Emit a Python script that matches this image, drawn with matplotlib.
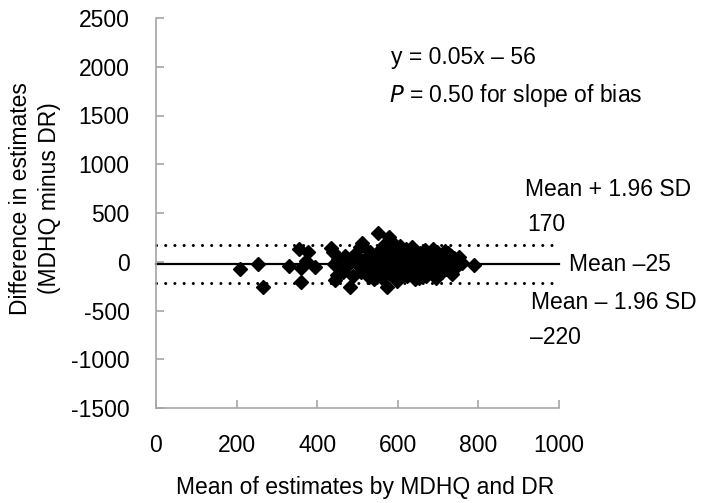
import matplotlib
matplotlib.use("Agg")
import matplotlib.pyplot as plt

plt.rcParams['font.family'] = ['Liberation Sans', 'DejaVu Sans']

# Data
mean_est = [208, 254, 266, 330, 354, 376, 359, 359, 394, 372,
            435, 440, 442, 444, 448, 452, 458, 463, 470, 475, 481, 485, 490, 495, 500,
            505, 511, 515, 520, 525, 530, 535, 538, 542, 546, 551, 555, 558,
            562, 565, 568, 572, 575, 578, 580, 583, 585, 587, 590, 593, 596, 598, 600,
            603, 606, 609, 612, 615, 618,
            622, 625, 628, 630, 633, 636, 640, 642, 645, 648, 651, 655, 658, 661, 665,
            668, 672, 675, 678,
            682, 686, 690, 694, 698, 702, 706, 710, 715, 720, 725, 730, 735, 740, 745,
            753, 760, 790,
            528, 548, 566, 592, 604, 620, 638, 652, 670, 688, 700, 718, 732, 508, 560]
diff_est = [-77, -23, -256, -40, 128, 97, -67, -211, -51, 10,
            138, 100, -20, -187, -135, 30, -60, -100, 60, -40, -256, 10, -150, 80, -30,
            150, 190, -70, 40, -120, 100, 45, -20, -180, 70, 300, -50, 130,
            20, -90, 180, -256, 60, 254, -30, -140, 110, 140, 0, -70, 40, -200, 90,
            -40, 160, -110, 20, -60, 70,
            -150, 110, -20, 40, -90, 150, -40, -180, 60, 0, -120, 90, -60, 20, -140,
            120, -30, 50, -100,
            80, -60, 10, -170, 100, -40, 50, -110, 20, -70, 90, -20, -130, 40, -50,
            52, -10, -33,
            -160, -110, 120, 170, -150, 130, 100, -170, -150, 130, -120, 110, 60, -110, -170]

mean_diff = -25
upper_loa = 170
lower_loa = -220
x_range = [0, 1000]

x_ticks = [0, 200, 400, 600, 800, 1000]
y_ticks = [-1500, -1000, -500, 0, 500, 1000, 1500, 2000, 2500]

fig = plt.figure(figsize=(7.02, 5.03), dpi=100)
ax = fig.add_axes([156/702, 1-408/503, 403/702, 390/503])

fs = 16.5
ax.plot(x_range, [upper_loa, upper_loa], color='black', lw=2.2,
        linestyle=(0, (0.01, 3)), dash_capstyle='round', clip_on=False)
ax.plot(x_range, [lower_loa, lower_loa], color='black', lw=2.2,
        linestyle=(0, (0.01, 3)), dash_capstyle='round', clip_on=False)
ax.plot(x_range, [mean_diff, mean_diff], color='black', lw=1.6, clip_on=False)
ax.plot(mean_est, diff_est, linestyle='none', marker='D', ms=7,
        color='black', clip_on=False)

ax.set_xlim(0, 1000)
ax.set_ylim(-1500, 2500)
ax.set_xticks(x_ticks)
ax.set_yticks(y_ticks)
ax.set_xticklabels([str(v) for v in x_ticks])
ax.set_yticklabels([str(v) for v in y_ticks])

for s in ['top', 'right']:
    ax.spines[s].set_visible(False)
for s in ['left', 'bottom']:
    ax.spines[s].set_color('#a6a6a6')
    ax.spines[s].set_linewidth(1.2)
ax.tick_params(axis='both', direction='in', length=6, width=1.2,
               color='#a6a6a6', labelsize=fs)
ax.tick_params(axis='y', pad=19)
ax.tick_params(axis='x', pad=19)

ax.set_ylabel('Difference in estimates\n(MDHQ minus DR)', fontsize=fs,
              linespacing=1.35)
ax.yaxis.set_label_coords(-0.30, 0.538)
ax.yaxis.label.set_va('center')
ax.set_xlabel('Mean of estimates by MDHQ and DR', fontsize=fs)
ax.xaxis.set_label_coords(0.519, -0.205)
ax.xaxis.label.set_va('center')

ax.text(584, 2090, 'y = 0.05x \u2013 56', fontsize=fs, va='center', ha='left')
ax.text(577, 1710, '$\\mathit{P}$ = 0.50 for slope of bias', fontsize=fs,
        va='center', ha='left')
ax.text(916, 736, 'Mean + 1.96 SD', fontsize=fs, va='center', ha='left', clip_on=False)
ax.text(922, 377, '170', fontsize=fs, va='center', ha='left', clip_on=False)
ax.text(1026, -30, 'Mean \u201325', fontsize=fs, va='center', ha='left', clip_on=False)
ax.text(931, -423, 'Mean \u2013 1.96 SD', fontsize=fs, va='center', ha='left', clip_on=False)
ax.text(929, -782, '\u2013220', fontsize=fs, va='center', ha='left', clip_on=False)

fig.savefig('out.png', dpi=100)
